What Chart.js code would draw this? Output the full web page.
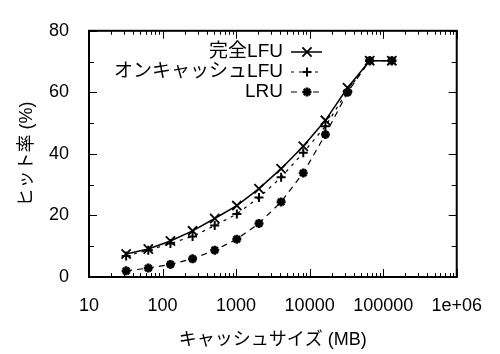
<!DOCTYPE html>
<html><head><meta charset="utf-8">
<script src="https://cdn.jsdelivr.net/npm/chart.js@4"></script>
<style>html,body{margin:0;padding:0;background:#fff}#wrap{width:500px;height:354px}</style>
</head><body><div id="wrap"><canvas id="c"></canvas></div>
<script>
const cacheSizes = [32,64,128,256,512,1024,2048,4096,8192,16384,32768,65536,131072];
const perfectLFU = [7.5,9.1,11.7,15.0,19.0,23.2,28.7,35.2,42.5,50.9,61.5,70.3,70.3];
const onCacheLFU = [6.8,8.7,10.9,13.2,16.7,20.5,25.8,32.4,40.4,49.0,60.5,70.3,70.3];
const lruHit = [2.0,2.9,4.1,5.9,8.7,12.3,17.4,24.4,33.8,46.3,60.0,70.3,70.3];
const seriesNames = ['完全LFU','オンキャッシュLFU','LRU'];
const xTickLabels = ['10','100','1000','10000','100000','1e+06'];
const yTickLabels = ['0','20','40','60','80'];
const xTitle = 'キャッシュサイズ (MB)';
const yTitle = 'ヒット率 (%)';

const FONT = "'Liberation Sans', 'Noto Sans CJK JP', sans-serif";
const toXY = arr => cacheSizes.map((s, i) => ({x: s, y: arr[i]}));

const frameTicks = {
  id: 'frameTicks',
  afterDraw(chart) {
    const {ctx, chartArea: a, scales: {x, y}} = chart;
    ctx.save();
    ctx.strokeStyle = '#000';
    ctx.lineWidth = 1;
    ctx.beginPath();
    const e0 = Math.round(Math.log10(x.min)), e1 = Math.round(Math.log10(x.max));
    for (let e = e0; e <= e1; e++) {
      for (let k = 1; k <= 9; k++) {
        const v = k * Math.pow(10, e);
        if (v < x.min || v > x.max) continue;
        const px = Math.round(x.getPixelForValue(v)) + 0.5;
        const len = k === 1 ? 8 : 4;
        ctx.moveTo(px, a.bottom); ctx.lineTo(px, a.bottom - len);
        ctx.moveTo(px, a.top); ctx.lineTo(px, a.top + len);
      }
    }
    for (let v = y.min; v <= y.max; v += 10) {
      const py = Math.round(y.getPixelForValue(v)) + 0.5;
      const len = v % 20 === 0 ? 8 : 5;
      ctx.moveTo(a.left, py); ctx.lineTo(a.left + len, py);
      ctx.moveTo(a.right, py); ctx.lineTo(a.right - len, py);
    }
    ctx.stroke();
    ctx.lineWidth = 2;
    ctx.strokeRect(a.left, a.top, a.right - a.left, a.bottom - a.top);
    ctx.restore();
  }
};

const keyBox = {
  id: 'keyBox',
  afterDatasetsDraw(chart) {
    const {ctx} = chart;
    ctx.save();
    chart.data.datasets.forEach((ds, i) => {
      const yy = 52 + 20 * i;
      ctx.font = '19px ' + FONT;
      ctx.fillStyle = '#000';
      ctx.textAlign = 'right';
      ctx.textBaseline = 'middle';
      ctx.fillText(ds.label, 283, yy);
      ctx.strokeStyle = '#000';
      ctx.lineWidth = ds.borderWidth;
      ctx.setLineDash(ds.borderDash || []);
      ctx.beginPath();
      ctx.moveTo(291, yy); ctx.lineTo(322, yy);
      ctx.stroke();
      ctx.setLineDash([]);
      ctx.lineWidth = ds.pointBorderWidth;
      Chart.helpers.drawPoint(ctx, {pointStyle: ds.pointStyle, radius: ds.pointRadius, borderWidth: ds.pointBorderWidth, rotation: 0}, 307, yy);
    });
    ctx.restore();
  }
};

new Chart(document.getElementById('c'), {
  type: 'line',
  data: {
    datasets: [
      {label: seriesNames[0], data: toXY(perfectLFU), borderColor: '#000', backgroundColor: '#000', borderWidth: 1.5,
       pointStyle: 'crossRot', pointRadius: 6.5, pointBorderWidth: 1.8},
      {label: seriesNames[1], data: toXY(onCacheLFU), borderColor: '#000', backgroundColor: '#000', borderWidth: 1.2, borderDash: [3, 5],
       pointStyle: 'cross', pointRadius: 4.5, pointBorderWidth: 2},
      {label: seriesNames[2], data: toXY(lruHit), borderColor: '#000', backgroundColor: '#000', borderWidth: 1.2, borderDash: [6, 5],
       pointStyle: 'star', pointRadius: 4.5, pointBorderWidth: 2.6}
    ]
  },
  options: {
    responsive: true,
    maintainAspectRatio: false,
    animation: false,
    layout: {padding: {top: 12, right: 30, left: 0, bottom: 0}},
    plugins: {legend: {display: false}, tooltip: {enabled: false}},
    scales: {
      x: {
        type: 'logarithmic', min: 10, max: 1000000,
        grid: {display: false, drawTicks: false}, border: {display: false},
        afterFit(s) { s.height = 77; },
        ticks: {
          autoSkip: false, maxRotation: 0, padding: 18, color: '#000',
          font: {family: FONT, size: 18},
          callback(v) {
            const e = Math.log10(v);
            if (Math.abs(e - Math.round(e)) > 1e-9) return null;
            return xTickLabels[Math.round(e) - 1];
          }
        },
        title: {display: true, text: xTitle, color: '#000', font: {family: FONT, size: 18}, padding: {top: 0, bottom: 3}}
      },
      y: {
        min: 0, max: 80,
        grid: {display: false, drawTicks: false}, border: {display: false},
        afterFit(s) { s.width = 89; },
        ticks: {
          stepSize: 20, padding: 20, color: '#000',
          font: {family: FONT, size: 18},
          callback(v) { return yTickLabels[Math.round(v / 20)]; }
        },
        title: {display: true, text: yTitle, color: '#000', font: {family: FONT, size: 18}, padding: {top: 16, bottom: 0}}
      }
    }
  },
  plugins: [frameTicks, keyBox]
});
</script></body></html>
